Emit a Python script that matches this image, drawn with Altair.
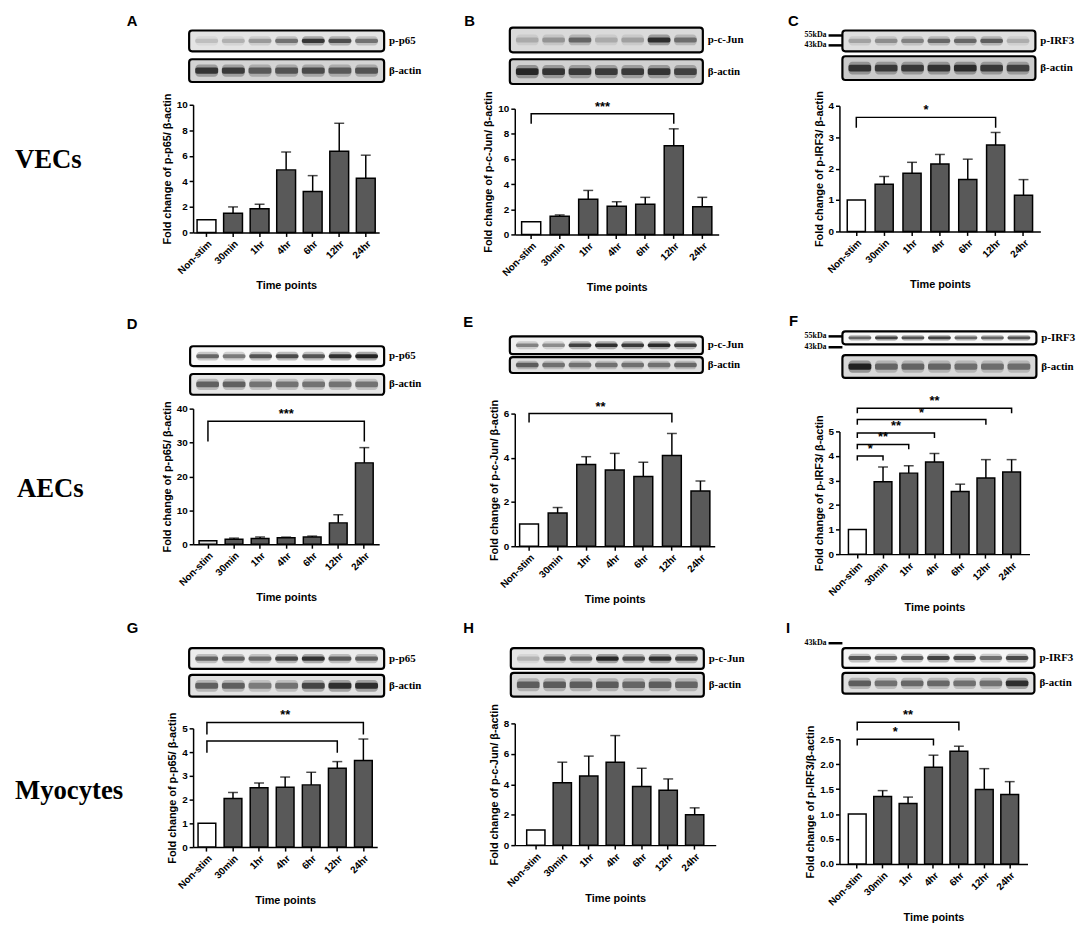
import altair as alt
import pandas as pd

# ---------------- data ----------------
cats = ["Non-stim", "30min", "1hr", "4hr", "6hr", "12hr", "24hr"]

A_mean = [1.0, 1.5, 1.85, 4.9, 3.2, 6.35, 4.25]
A_upper = [1.0, 2.0, 2.2, 6.3, 4.45, 8.55, 6.05]
B_mean = [1.0, 1.45, 2.8, 2.25, 2.4, 7.05, 2.2]
B_upper = [1.0, 1.55, 3.5, 2.6, 2.95, 8.4, 2.95]
C_mean = [1.0, 1.5, 1.85, 2.15, 1.65, 2.75, 1.15]
C_upper = [1.0, 1.75, 2.2, 2.45, 2.3, 3.15, 1.65]
D_mean = [1.0, 1.5, 1.7, 1.9, 2.1, 6.3, 24.0]
D_upper = [1.0, 1.8, 2.1, 2.1, 2.4, 8.7, 28.5]
E_mean = [1.0, 1.5, 3.7, 3.45, 3.15, 4.1, 2.5]
E_upper = [1.0, 1.75, 4.05, 4.2, 3.8, 5.1, 2.95]
F_mean = [1.0, 2.95, 3.3, 3.75, 2.55, 3.1, 3.35]
F_upper = [1.0, 3.55, 3.6, 4.1, 2.85, 3.85, 3.85]
G_mean = [1.0, 2.05, 2.5, 2.52, 2.62, 3.32, 3.65]
G_upper = [1.0, 2.3, 2.7, 2.95, 3.15, 3.6, 4.55]
H_mean = [1.0, 4.1, 4.55, 5.45, 3.85, 3.6, 2.0]
H_upper = [1.0, 5.45, 5.85, 7.2, 5.05, 4.35, 2.45]
I_mean = [1.0, 1.35, 1.21, 1.94, 2.26, 1.49, 1.39]
I_upper = [1.0, 1.47, 1.34, 2.18, 2.36, 1.91, 1.65]

# significance brackets (all start at Non-stim)
B_brk_end, B_brk_level, B_brk_foot, B_brk_star = ["12hr"], [9.6], [8.87], ["***"]
C_brk_end, C_brk_level, C_brk_foot, C_brk_star = ["12hr"], [3.63], [3.32], ["*"]
D_brk_end, D_brk_level, D_brk_foot, D_brk_star = ["24hr"], [36.3], [30.5], ["***"]
E_brk_end, E_brk_level, E_brk_foot, E_brk_star = ["12hr"], [6.0], [5.63], ["**"]
F_brk_end = ["30min", "1hr", "4hr", "12hr", "24hr"]
F_brk_level = [4.0, 4.47, 4.93, 5.48, 5.94]
F_brk_foot = [3.84, 4.3, 4.76, 5.3, 5.77]
F_brk_star = ["*", "**", "**", "*", "**"]
G_brk_end, G_brk_level, G_brk_foot, G_brk_star = ["12hr", "24hr"], [4.47, 5.25], [4.0, 4.77], ["", "**"]
I_brk_end, I_brk_level, I_brk_foot, I_brk_star = ["4hr", "6hr"], [2.5, 2.84], [2.39, 2.69], ["*", "**"]

# western-blot band intensities (phospho band, beta-actin band)
A_band = [0.15, 0.2, 0.3, 0.5, 0.85, 0.7, 0.5]
A_actin = [0.85, 0.8, 0.6, 0.65, 0.7, 0.6, 0.65]
B_band = [0.2, 0.3, 0.55, 0.2, 0.25, 0.9, 0.5]
B_actin = [0.95, 0.85, 0.8, 0.8, 0.8, 0.85, 0.75]
C_band = [0.25, 0.35, 0.4, 0.55, 0.55, 0.6, 0.2]
C_actin = [0.85, 0.8, 0.8, 0.85, 0.9, 0.8, 0.75]
D_band = [0.6, 0.5, 0.7, 0.75, 0.7, 0.9, 1.0]
D_actin = [0.6, 0.6, 0.5, 0.5, 0.5, 0.5, 0.5]
E_band = [0.45, 0.4, 0.8, 0.9, 0.85, 0.95, 0.8]
E_actin = [0.6, 0.5, 0.5, 0.5, 0.5, 0.5, 0.55]
F_band = [0.6, 0.8, 0.7, 0.8, 0.6, 0.6, 0.7]
F_actin = [1.0, 0.55, 0.55, 0.55, 0.5, 0.5, 0.5]
G_band = [0.6, 0.6, 0.55, 0.75, 0.9, 0.65, 0.6]
G_actin = [0.6, 0.6, 0.45, 0.5, 0.75, 0.9, 0.9]
H_band = [0.2, 0.6, 0.55, 0.95, 0.7, 0.9, 0.75]
H_actin = [0.6, 0.6, 0.6, 0.6, 0.55, 0.6, 0.55]
I_band = [0.7, 0.6, 0.65, 0.8, 0.75, 0.55, 0.75]
I_actin = [0.6, 0.5, 0.55, 0.55, 0.5, 0.5, 0.9]

# ---------------- layout / style ----------------
FONT = "Liberation Sans"
SERIF = "Liberation Serif"
BAR_FILL = "#595959"
ROW_TOP = [103, 410, 728]
COL_LEFT = [195, 520, 848]

P = [
    dict(row=0, col=0, mean=A_mean, upper=A_upper, ymax=10, yvals=[0, 2, 4, 6, 8, 10], fmt="d",
         ytitle="Fold change of p-p65/ β-actin", W=188, h=129, dy=0, pi=0.29, po=0.15, brk=None,
         blot=(191, 388, 28, 49, 57, 80), lanes=(A_band, A_actin), label="p-p65",
         bg=("#e4e4e4", "#d4d4d4"), letter=("A", 128, 23), kda=[], rowlabel=("VECs", 15, 167), base="white"),
    dict(row=0, col=1, mean=B_mean, upper=B_upper, ymax=10, yvals=[0, 2, 4, 6, 8, 10], fmt="d",
         ytitle="Fold change of p-c-Jun/ β-actin", W=206, h=127, dy=4, pi=0.33, po=0.24,
         brk=(B_brk_end, B_brk_level, B_brk_foot, B_brk_star),
         blot=(515, 710, 25, 50, 57, 82), lanes=(B_band, B_actin), label="p-c-Jun",
         bg=("#dadada", "#d0d0d0"), letter=("B", 469, 23), kda=[], rowlabel=None, base="white"),
    dict(row=0, col=2, mean=C_mean, upper=C_upper, ymax=4, yvals=[0, 1, 2, 3, 4], fmt="d",
         ytitle="Fold change of p-IRF3/ β-actin", W=203, h=127, dy=1, pi=0.35, po=0.28,
         brk=(C_brk_end, C_brk_level, C_brk_foot, C_brk_star),
         blot=(851, 1046, 28, 49, 54, 78), lanes=(C_band, C_actin), label="p-IRF3",
         bg=("#dedede", "#cacaca"), letter=("C", 796, 23), kda=[("55kDa", 33), ("43kDa", 43)],
         rowlabel=None, base="white"),
    dict(row=1, col=0, mean=D_mean, upper=D_upper, ymax=40, yvals=[0, 10, 20, 30, 40], fmt="d",
         ytitle="Fold change of p-p65/ β-actin", W=188, h=137, dy=0, pi=0.32, po=0.23,
         brk=(D_brk_end, D_brk_level, D_brk_foot, D_brk_star),
         blot=(192, 388, 347, 367, 375, 396), lanes=(D_band, D_actin), label="p-p65",
         bg=("#f8f8f8", "#e6e6e6"), letter=("D", 128, 330), kda=[], rowlabel=("AECs", 17, 499), base="#dedede"),
    dict(row=1, col=1, mean=E_mean, upper=E_upper, ymax=6, yvals=[0, 2, 4, 6], fmt="d",
         ytitle="Fold change of p-c-Jun/ β-actin", W=202, h=134, dy=5, pi=0.34, po=0.17,
         brk=(E_brk_end, E_brk_level, E_brk_foot, E_brk_star),
         blot=(515, 710, 337, 355, 358, 374), lanes=(E_band, E_actin), label="p-c-Jun",
         bg=("#f0f0f0", "#e0e0e0"), letter=("E", 468, 328), kda=[], rowlabel=None, base="white"),
    dict(row=1, col=2, mean=F_mean, upper=F_upper, ymax=5, yvals=[0, 1, 2, 3, 4, 5], fmt="d",
         ytitle="Fold change of p-IRF3/ β-actin", W=192, h=124, dy=23, pi=0.31, po=0.35,
         brk=(F_brk_end, F_brk_level, F_brk_foot, F_brk_star),
         blot=(851, 1047, 332, 345, 356, 379), lanes=(F_band, F_actin), label="p-IRF3",
         bg=("#f8f8f8", "#d8d8d8"), letter=("F", 797, 327), kda=[("55kDa", 337), ("43kDa", 348)],
         rowlabel=None, base="white"),
    dict(row=2, col=0, mean=G_mean, upper=G_upper, ymax=5, yvals=[0, 1, 2, 3, 4, 5], fmt="d",
         ytitle="Fold change of p-p65/ β-actin", W=186, h=120, dy=5, pi=0.32, po=0.19,
         brk=(G_brk_end, G_brk_level, G_brk_foot, G_brk_star),
         blot=(191, 388, 652, 673, 679, 701), lanes=(G_band, G_actin), label="p-p65",
         bg=("#ececec", "#e2e2e2"), letter=("G", 128, 637), kda=[], rowlabel=("Myocytes", 15, 804), base="white"),
    dict(row=2, col=1, mean=H_mean, upper=H_upper, ymax=8, yvals=[0, 2, 4, 6, 8], fmt="d",
         ytitle="Fold change of p-c-Jun/ β-actin", W=203, h=123, dy=0, pi=0.31, po=0.45, brk=None,
         blot=(516, 711, 652, 673, 677, 701), lanes=(H_band, H_actin), label="p-c-Jun",
         bg=("#e6e6e6", "#dadada"), letter=("H", 468, 637), kda=[], rowlabel=None, base="white"),
    dict(row=2, col=2, mean=I_mean, upper=I_upper, ymax=2.5, yvals=[0, 0.5, 1.0, 1.5, 2.0, 2.5], fmt=".1f",
         ytitle="Fold change of p-IRF3/β-actin", W=190, h=126, dy=16, pi=0.30, po=0.35,
         brk=(I_brk_end, I_brk_level, I_brk_foot, I_brk_star),
         blot=(851, 1045, 652, 672, 677, 698), lanes=(I_band, I_actin), label="p-IRF3",
         bg=("#f6f6f6", "#e0e0e0"), letter=("I", 794, 637), kda=[("43kDa", 647)], rowlabel=None, base="white"),
]


def one():
    return pd.DataFrame({"k": [0]})


def panel(p):
    ox, oy = COL_LEFT[p["col"]], ROW_TOP[p["row"]]
    W, h, dy = p["W"], p["h"], p["dy"]
    H = dy + h
    step = W / (len(cats) - p["pi"] + 2 * p["po"])

    xscale = alt.Scale(domain=cats, paddingInner=p["pi"], paddingOuter=p["po"])
    yscale = alt.Scale(domain=[0, p["ymax"]], nice=False, range=[H, dy])
    xaxis = alt.Axis(title="Time points", labelAngle=-45, labelAlign="right", labelBaseline="top",
                     labelOverlap=False, labelBound=False, labelFlush=False)
    yaxis = alt.Axis(title=p["ytitle"], values=p["yvals"], format=p["fmt"], labelOverlap=False)
    X = lambda f: alt.X(f, type="nominal", sort=cats, scale=xscale, axis=xaxis)
    Y = lambda f: alt.Y(f, type="quantitative", scale=yscale, axis=yaxis)

    df = pd.DataFrame({"time": cats, "mean": p["mean"], "upper": p["upper"],
                       "fill": [p["base"]] + [BAR_FILL] * (len(cats) - 1)})
    err = df.iloc[1:].reset_index(drop=True)

    bars = alt.Chart(df).mark_bar(stroke="black", strokeWidth=1.5).encode(
        x=X("time"), y=Y("mean"), fill=alt.Fill("fill:N", scale=None))
    erule = alt.Chart(err).mark_rule(color="black", strokeWidth=1.5).encode(
        x=X("time"), y=Y("mean"), y2="upper:Q")
    ecap = alt.Chart(err).mark_tick(color="black", thickness=1.5, size=10).encode(
        x=X("time"), y=Y("upper"))
    main_layers = [bars, erule, ecap]

    if p["brk"] is not None:
        ends, levels, feet, stars = p["brk"]
        rows = []
        for i, (e, l, f) in enumerate(zip(ends, levels, feet)):
            rows += [dict(b=i, o=0, time=cats[0], y=f), dict(b=i, o=1, time=cats[0], y=l),
                     dict(b=i, o=2, time=e, y=l), dict(b=i, o=3, time=e, y=f)]
        bl = alt.Chart(pd.DataFrame(rows)).mark_line(color="black", strokeWidth=1.5,
                                                      strokeJoin="miter", strokeCap="square").encode(
            x=X("time"), y=Y("y"), detail="b:N", order="o:Q")
        main_layers.append(bl)
        even, odd = [], []
        for e, l, s in zip(ends, levels, stars):
            j = cats.index(e)
            rec = dict(mid=cats[j // 2], level=l, star=s)
            (even if j % 2 == 0 else odd).append(rec)
        for recs, shift in ((even, 0), (odd, step / 2)):
            if recs:
                main_layers.append(
                    alt.Chart(pd.DataFrame(recs)).mark_text(
                        font=FONT, fontWeight="bold", fontSize=13, baseline="alphabetic",
                        dy=-3, dx=shift, color="black").encode(
                        x=X("mid"), y=Y("level"), text="star:N"))

    main = alt.layer(*main_layers)

    # ---- western blot strips and annotations (decoration) ----
    bx1, bx2, t1, b1, t2, b2 = p["blot"]
    L, R = bx1 - ox, bx2 - ox
    deco = []
    lane_df = pd.DataFrame({"time": cats, "top": p["lanes"][0], "act": p["lanes"][1]})
    lane_df["top_h"] = lane_df["top"] * 0.35
    lane_df["act_h"] = lane_df["act"] * 0.35
    lane_df["top_c"] = lane_df["top"] * 0.9
    lane_df["act_c"] = lane_df["act"] * 0.9
    lane_x = alt.X("time:N", sort=cats, axis=None,
                   scale=alt.Scale(domain=cats, range=[L + 4, R - 4], paddingInner=0.14, paddingOuter=0.08))
    strips = ((t1, b1, p["bg"][0], "top", 0.10, 0.22), (t2, b2, p["bg"][1], "act", 0.14, 0.27))
    for (t, b, bg, fld, core, halo) in strips:
        deco.append(alt.Chart(one()).mark_rect(fill=bg, stroke="black", strokeWidth=2.2, cornerRadius=3).encode(
            x=alt.value(L), x2=alt.value(R), y=alt.value(t - oy), y2=alt.value(b - oy)))
        mid = (t + b) / 2 - oy
        for frac, col, rad in ((halo, fld + "_h", 4), (core, fld + "_c", 2)):
            hh = (b - t) * frac
            deco.append(alt.Chart(lane_df).mark_rect(color="#141414", cornerRadius=rad).encode(
                x=lane_x, y=alt.value(mid - hh), y2=alt.value(mid + hh),
                opacity=alt.Opacity(col + ":Q", scale=None)))
    for txt, (t, b) in ((p["label"], (t1, b1)), ("β-actin", (t2, b2))):
        deco.append(alt.Chart(one()).mark_text(text=txt, font=SERIF, fontWeight="bold", fontSize=11,
                                               align="left", baseline="middle", color="black").encode(
            x=alt.value(R + 5), y=alt.value((t + b) / 2 - oy)))
    for txt, yy in p["kda"]:
        deco.append(alt.Chart(one()).mark_text(text=txt, font=SERIF, fontWeight="bold", fontSize=8,
                                               align="right", baseline="middle", color="black").encode(
            x=alt.value(835 - ox), y=alt.value(yy - oy)))
        deco.append(alt.Chart(one()).mark_rule(color="black", strokeWidth=2.5).encode(
            x=alt.value(837 - ox), x2=alt.value(L), y=alt.value(yy - oy)))
    letter, lx, ly = p["letter"]
    deco.append(alt.Chart(one()).mark_text(text=letter, font=FONT, fontWeight="bold", fontSize=15,
                                           align="left", baseline="alphabetic", color="black").encode(
        x=alt.value(lx - ox), y=alt.value(ly - oy)))
    if p["rowlabel"]:
        rl, rx, ry = p["rowlabel"]
        deco.append(alt.Chart(one()).mark_text(text=rl, font=SERIF, fontWeight="bold", fontSize=27,
                                               align="left", baseline="alphabetic", color="black").encode(
            x=alt.value(rx - ox), y=alt.value(ry - oy)))

    blot = alt.layer(*deco)
    return alt.layer(main, blot).resolve_scale(x="independent").properties(width=W, height=H)


def spacer(w, h):
    return alt.Chart(one()).mark_point(opacity=0).encode(
        x=alt.value(0), y=alt.value(0)).properties(width=w, height=h)


panels = [panel(p) for p in P]
GAP_C = [137, 122]
GAP_R = [176, 171]

cells = []
for r in range(3):
    row = panels[3 * r: 3 * r + 3]
    cells += [row[0], spacer(GAP_C[0], 1), row[1], spacer(GAP_C[1], 1), row[2]]
    if r < 2:
        g = GAP_R[r]
        cells += [spacer(1, g), spacer(GAP_C[0], g), spacer(1, g), spacer(GAP_C[1], g), spacer(1, g)]

chart = alt.concat(*cells, columns=5, spacing=0, bounds="flush").properties(
    padding={"left": 7, "top": 1, "right": 0, "bottom": 5}
).configure_view(stroke=None).configure_axis(
    labelFont=FONT, labelFontSize=10, labelFontWeight="bold", labelColor="black",
    titleFont=FONT, titleFontSize=11, titleFontWeight="bold", titleColor="black",
    domainColor="black", domainWidth=1.5, tickColor="black", tickWidth=1.5, tickSize=4,
    grid=False, labelPadding=2, titlePadding=4
)

chart.save("out.html", embed_options={"renderer": "svg", "actions": False})
